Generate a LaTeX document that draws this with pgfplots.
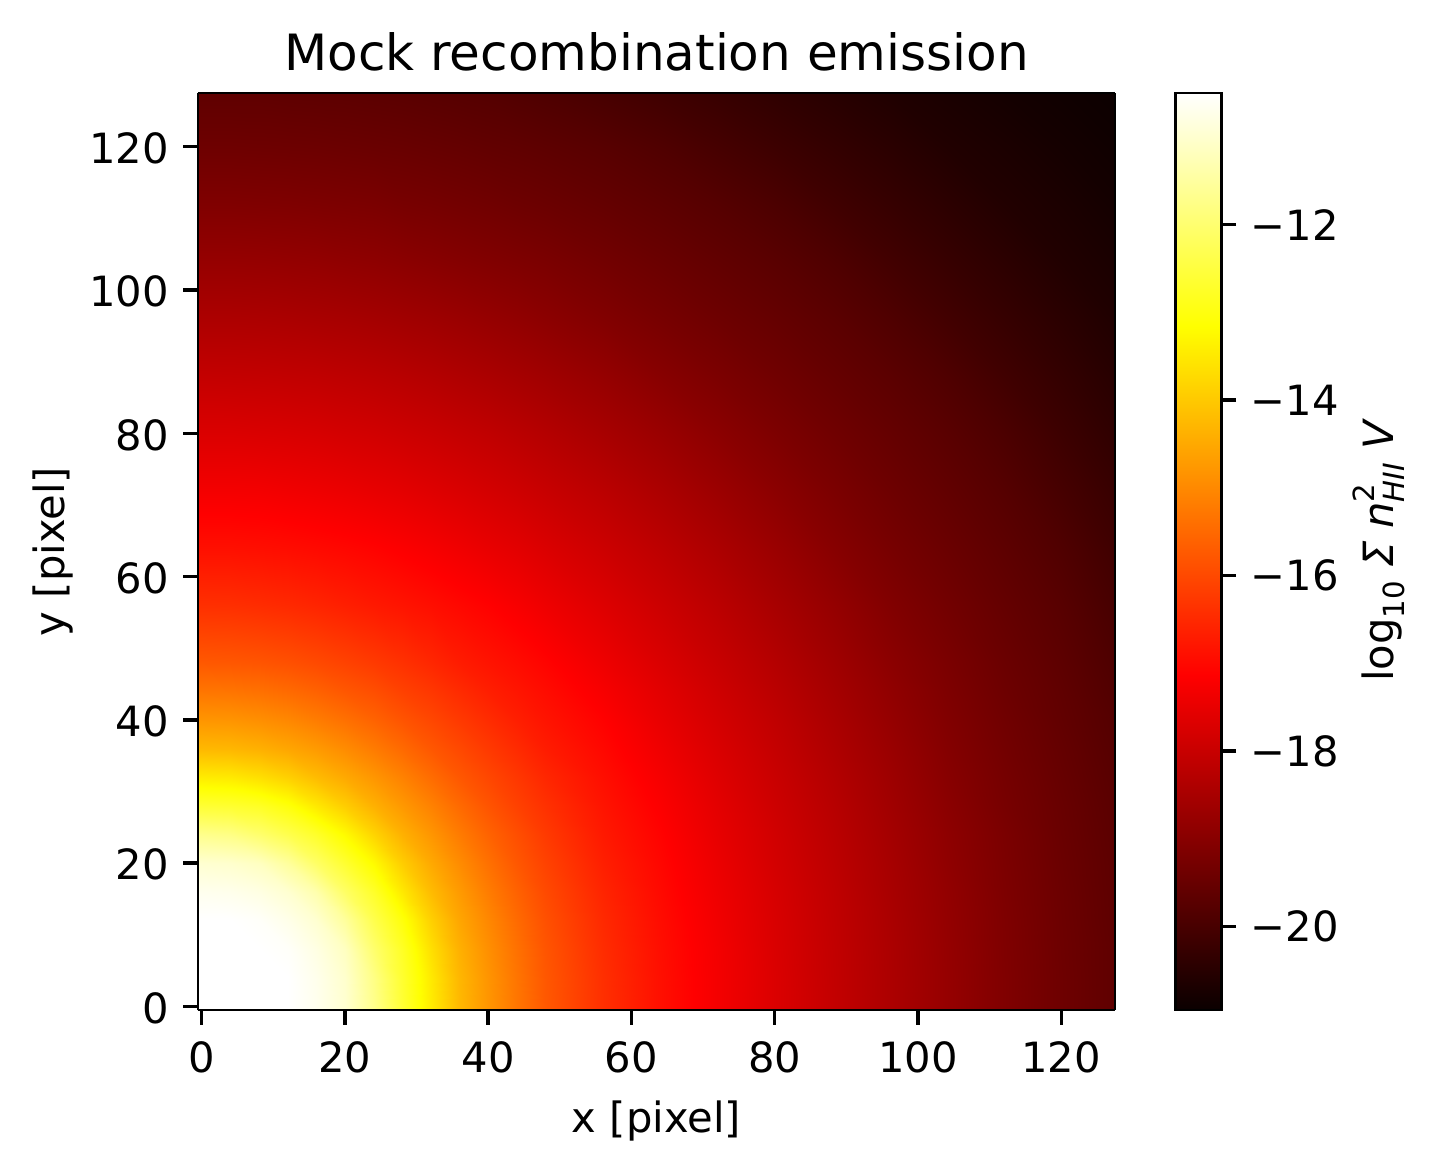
\documentclass[border=0pt]{standalone}
\usepackage{pgfplots}
\pgfplotsset{compat=1.18}
\usepackage{fontspec}
\setmainfont{DejaVu Sans}
\begin{document}
\begin{tikzpicture}[x=1pt,y=1pt]
\useasboundingbox (0,0) rectangle (344.88,280.8);
\begin{axis}[
    at={(47.52pt,38.4pt)}, anchor=south west,
    scale only axis, width=220.08pt, height=220.08pt,
    view={0}{90},
    xmin=-0.5, xmax=127.5, ymin=-0.5, ymax=127.5,
    xtick={0,20,...,120}, ytick={0,20,...,120}, ztick=\empty,
    tick align=outside, xtick pos=bottom, ytick pos=left,
    major tick length=3.5pt,
    every tick/.style={black,line width=0.8pt},
    axis line style={line width=0.7pt},
    axis on top,
    /pgf/number format/assume math mode=true,
    tick label style={font=\fontsize{10}{12}\selectfont},
    xticklabel style={yshift=-0.5pt},
    yticklabel style={yshift=-0.4pt},
    title={Mock recombination emission},
    title style={font=\fontsize{12}{14}\selectfont,at={(0.5,1)},anchor=base,yshift=-0.5pt},
    xlabel={x [pixel]},
    xlabel style={font=\fontsize{10}{12}\selectfont,at={(axis description cs:0.5,0)},anchor=base,yshift=-29.3pt},
    ylabel={y [pixel]},
    ylabel style={font=\fontsize{10}{12}\selectfont,at={(axis description cs:0,0.5)},yshift=32pt,anchor=base},
    colormap={hot}{rgb(0cm)=(0.0416,0,0); rgb(3.65cm)=(1,0,0); rgb(7.46cm)=(1,1,0); rgb(10cm)=(1,1,1)},
    point meta min=-20.95, point meta max=-10.5,
    colorbar,
    colorbar style={
        at={(parent axis.north east)}, anchor=north west, xshift=6pt,
        scale only axis, width=11.04pt,
        ytick={-20,-18,-16,-14,-12},
        yticklabels={−20,−18,−16,−14,−12},
        ytick pos=right,
        yticklabel pos=right,
        major tick length=3.5pt,
        tick align=outside,
        every tick/.style={black,line width=0.8pt},
        axis line style={line width=0.7pt},
        ylabel={log\raisebox{-0.25em}{\fontsize{7}{8}\selectfont 10} {\itshape Σ n}\rlap{\raisebox{0.45em}{\fontsize{7}{8}\selectfont 2}}\raisebox{-0.25em}{\fontsize{7}{8}\selectfont\itshape HII} {\itshape V}},
        ylabel style={font=\fontsize{10}{12}\selectfont,at={(axis description cs:1,0.5)},yshift=-41.3pt,anchor=base},
    },
]
\addplot3[surf, shader=interp, mesh/rows=23, mesh/cols=23] table {
-0.5 -0.5 -10.30
4 -0.5 -10.32
8 -0.5 -10.35
12 -0.5 -10.42
16 -0.5 -10.67
20 -0.5 -10.98
24 -0.5 -11.7
28 -0.5 -12.6
32 -0.5 -13.45
36 -0.5 -14.25
40 -0.5 -14.8
44 -0.5 -15.3
48 -0.5 -15.75
56 -0.5 -16.4
64 -0.5 -16.9
72 -0.5 -17.3
80 -0.5 -17.7
88 -0.5 -18.06
96 -0.5 -18.42
104 -0.5 -18.78
112 -0.5 -19.12
120 -0.5 -19.4
127.5 -0.5 -19.63
-0.5 4 -10.32
4 4 -10.33
8 4 -10.36
12 4 -10.45
16 4 -10.7
20 4 -11.02
24 4 -11.78
28 4 -12.65
32 4 -13.49
36 4 -14.28
40 4 -14.82
44 4 -15.32
48 4 -15.77
56 4 -16.41
64 4 -16.9
72 4 -17.3
80 4 -17.7
88 4 -18.07
96 4 -18.42
104 4 -18.78
112 4 -19.12
120 4 -19.4
127.5 4 -19.63
-0.5 8 -10.35
4 8 -10.36
8 8 -10.41
12 8 -10.56
16 8 -10.79
20 8 -11.15
24 8 -12.03
28 8 -12.76
32 8 -13.65
36 8 -14.38
40 8 -14.9
44 8 -15.38
48 8 -15.81
56 8 -16.45
64 8 -16.92
72 8 -17.31
80 8 -17.72
88 8 -18.08
96 8 -18.43
104 8 -18.79
112 8 -19.13
120 8 -19.41
127.5 8 -19.63
-0.5 12 -10.42
4 12 -10.45
8 12 -10.56
12 12 -10.73
16 12 -10.98
20 12 -11.53
24 12 -12.36
28 12 -13.04
32 12 -13.89
36 12 -14.54
40 12 -15.02
44 12 -15.48
48 12 -15.88
56 12 -16.5
64 12 -16.95
72 12 -17.35
80 12 -17.74
88 12 -18.1
96 12 -18.45
104 12 -18.81
112 12 -19.14
120 12 -19.42
127.5 12 -19.65
-0.5 16 -10.67
4 16 -10.7
8 16 -10.79
12 16 -10.98
16 16 -11.35
20 16 -12.1
24 16 -12.72
28 16 -13.49
32 16 -14.21
36 16 -14.72
40 16 -15.19
44 16 -15.61
48 16 -15.98
56 16 -16.57
64 16 -16.99
72 16 -17.39
80 16 -17.77
88 16 -18.12
96 16 -18.48
104 16 -18.83
112 16 -19.16
120 16 -19.43
127.5 16 -19.66
-0.5 20 -10.98
4 20 -11.02
8 20 -11.15
12 20 -11.53
16 20 -12.1
20 20 -12.65
24 20 -13.23
28 20 -13.93
32 20 -14.5
36 20 -14.95
40 20 -15.38
44 20 -15.78
48 20 -16.1
56 20 -16.66
64 20 -17.04
72 20 -17.44
80 20 -17.82
88 20 -18.16
96 20 -18.51
104 20 -18.87
112 20 -19.18
120 20 -19.45
127.5 20 -19.67
-0.5 24 -11.7
4 24 -11.78
8 24 -12.03
12 24 -12.36
16 24 -12.72
20 24 -13.23
24 24 -13.83
28 24 -14.38
32 24 -14.8
36 24 -15.21
40 24 -15.59
44 24 -15.92
48 24 -16.23
56 24 -16.75
64 24 -17.1
72 24 -17.5
80 24 -17.86
88 24 -18.2
96 24 -18.55
104 24 -18.9
112 24 -19.2
120 24 -19.47
127.5 24 -19.69
-0.5 28 -12.6
4 28 -12.65
8 28 -12.76
12 28 -13.04
16 28 -13.49
20 28 -13.93
24 28 -14.38
28 28 -14.75
32 28 -15.11
36 28 -15.48
40 28 -15.82
44 28 -16.12
48 28 -16.37
56 28 -16.83
64 28 -17.18
72 28 -17.56
80 28 -17.92
88 28 -18.25
96 28 -18.6
104 28 -18.95
112 28 -19.25
120 28 -19.49
127.5 28 -19.71
-0.5 32 -13.45
4 32 -13.49
8 32 -13.65
12 32 -13.89
16 32 -14.21
20 32 -14.5
24 32 -14.8
28 32 -15.11
32 32 -15.45
36 32 -15.77
40 32 -16.03
44 32 -16.28
48 32 -16.53
56 32 -16.92
64 32 -17.27
72 32 -17.64
80 32 -17.98
88 32 -18.31
96 32 -18.65
104 32 -19
112 32 -19.28
120 32 -19.52
127.5 32 -19.74
-0.5 36 -14.25
4 36 -14.28
8 36 -14.38
12 36 -14.54
16 36 -14.72
20 36 -14.95
24 36 -15.21
28 36 -15.48
32 36 -15.77
36 36 -16
40 36 -16.24
44 36 -16.47
48 36 -16.7
56 36 -17.02
64 36 -17.37
72 36 -17.72
80 36 -18.05
88 36 -18.38
96 36 -18.71
104 36 -19.05
112 36 -19.32
120 36 -19.55
127.5 36 -19.77
-0.5 40 -14.8
4 40 -14.82
8 40 -14.9
12 40 -15.02
16 40 -15.19
20 40 -15.38
24 40 -15.59
28 40 -15.82
32 40 -16.03
36 40 -16.24
40 40 -16.45
44 40 -16.66
48 40 -16.83
56 40 -17.12
64 40 -17.48
72 40 -17.81
80 40 -18.12
88 40 -18.45
96 40 -18.78
104 40 -19.1
112 40 -19.36
120 40 -19.59
127.5 40 -19.8
-0.5 44 -15.3
4 44 -15.32
8 44 -15.38
12 44 -15.48
16 44 -15.61
20 44 -15.78
24 44 -15.92
28 44 -16.12
32 44 -16.28
36 44 -16.47
40 44 -16.66
44 44 -16.81
48 44 -16.95
56 44 -17.25
64 44 -17.58
72 44 -17.9
80 44 -18.21
88 44 -18.53
96 44 -18.85
104 44 -19.15
112 44 -19.41
120 44 -19.62
127.5 44 -19.85
-0.5 48 -15.75
4 48 -15.77
8 48 -15.81
12 48 -15.88
16 48 -15.98
20 48 -16.1
24 48 -16.23
28 48 -16.37
32 48 -16.53
36 48 -16.7
40 48 -16.83
44 48 -16.95
48 48 -17.08
56 48 -17.39
64 48 -17.7
72 48 -18
80 48 -18.3
88 48 -18.61
96 48 -18.93
104 48 -19.2
112 48 -19.45
120 48 -19.66
127.5 48 -19.9
-0.5 56 -16.4
4 56 -16.41
8 56 -16.45
12 56 -16.5
16 56 -16.57
20 56 -16.66
24 56 -16.75
28 56 -16.83
32 56 -16.92
36 56 -17.02
40 56 -17.12
44 56 -17.25
48 56 -17.39
56 56 -17.66
64 56 -17.93
72 56 -18.2
80 56 -18.5
88 56 -18.79
96 56 -19.09
104 56 -19.33
112 56 -19.55
120 56 -19.75
127.5 56 -20.01
-0.5 64 -16.9
4 64 -16.9
8 64 -16.92
12 64 -16.95
16 64 -16.99
20 64 -17.04
24 64 -17.1
28 64 -17.18
32 64 -17.27
36 64 -17.37
40 64 -17.48
44 64 -17.58
48 64 -17.7
56 64 -17.93
64 64 -18.17
72 64 -18.43
80 64 -18.71
88 64 -19
96 64 -19.25
104 64 -19.46
112 64 -19.66
120 64 -19.87
127.5 64 -20.13
-0.5 72 -17.3
4 72 -17.3
8 72 -17.31
12 72 -17.35
16 72 -17.39
20 72 -17.44
24 72 -17.5
28 72 -17.56
32 72 -17.64
36 72 -17.72
40 72 -17.81
44 72 -17.9
48 72 -18
56 72 -18.2
64 72 -18.43
72 72 -18.68
80 72 -18.94
88 72 -19.18
96 72 -19.4
104 72 -19.59
112 72 -19.78
120 72 -20.02
127.5 72 -20.25
-0.5 80 -17.7
4 80 -17.7
8 80 -17.72
12 80 -17.74
16 80 -17.77
20 80 -17.82
24 80 -17.86
28 80 -17.92
32 80 -17.98
36 80 -18.05
40 80 -18.12
44 80 -18.21
48 80 -18.3
56 80 -18.5
64 80 -18.71
72 80 -18.94
80 80 -19.16
88 80 -19.36
96 80 -19.54
104 80 -19.72
112 80 -19.93
120 80 -20.17
127.5 80 -20.38
-0.5 88 -18.06
4 88 -18.07
8 88 -18.08
12 88 -18.1
16 88 -18.12
20 88 -18.16
24 88 -18.2
28 88 -18.25
32 88 -18.31
36 88 -18.38
40 88 -18.45
44 88 -18.53
48 88 -18.61
56 88 -18.79
64 88 -19
72 88 -19.18
80 88 -19.36
88 88 -19.53
96 88 -19.69
104 88 -19.88
112 88 -20.11
120 88 -20.31
127.5 88 -20.5
-0.5 96 -18.42
4 96 -18.42
8 96 -18.43
12 96 -18.45
16 96 -18.48
20 96 -18.51
24 96 -18.55
28 96 -18.6
32 96 -18.65
36 96 -18.71
40 96 -18.78
44 96 -18.85
48 96 -18.93
56 96 -19.09
64 96 -19.25
72 96 -19.4
80 96 -19.54
88 96 -19.69
96 96 -19.87
104 96 -20.08
112 96 -20.27
120 96 -20.45
127.5 96 -20.62
-0.5 104 -18.78
4 104 -18.78
8 104 -18.79
12 104 -18.81
16 104 -18.83
20 104 -18.87
24 104 -18.9
28 104 -18.95
32 104 -19
36 104 -19.05
40 104 -19.1
44 104 -19.15
48 104 -19.2
56 104 -19.33
64 104 -19.46
72 104 -19.59
80 104 -19.72
88 104 -19.88
96 104 -20.08
104 104 -20.26
112 104 -20.43
120 104 -20.6
127.5 104 -20.71
-0.5 112 -19.12
4 112 -19.12
8 112 -19.13
12 112 -19.14
16 112 -19.16
20 112 -19.18
24 112 -19.2
28 112 -19.25
32 112 -19.28
36 112 -19.32
40 112 -19.36
44 112 -19.41
48 112 -19.45
56 112 -19.55
64 112 -19.66
72 112 -19.78
80 112 -19.93
88 112 -20.11
96 112 -20.27
104 112 -20.43
112 112 -20.59
120 112 -20.69
127.5 112 -20.8
-0.5 120 -19.4
4 120 -19.4
8 120 -19.41
12 120 -19.42
16 120 -19.43
20 120 -19.45
24 120 -19.47
28 120 -19.49
32 120 -19.52
36 120 -19.55
40 120 -19.59
44 120 -19.62
48 120 -19.66
56 120 -19.75
64 120 -19.87
72 120 -20.02
80 120 -20.17
88 120 -20.31
96 120 -20.45
104 120 -20.6
112 120 -20.69
120 120 -20.79
127.5 120 -20.87
-0.5 127.5 -19.63
4 127.5 -19.63
8 127.5 -19.63
12 127.5 -19.65
16 127.5 -19.66
20 127.5 -19.67
24 127.5 -19.69
28 127.5 -19.71
32 127.5 -19.74
36 127.5 -19.77
40 127.5 -19.8
44 127.5 -19.85
48 127.5 -19.9
56 127.5 -20.01
64 127.5 -20.13
72 127.5 -20.25
80 127.5 -20.38
88 127.5 -20.5
96 127.5 -20.62
104 127.5 -20.71
112 127.5 -20.8
120 127.5 -20.87
127.5 127.5 -20.93
};
\end{axis}
\end{tikzpicture}
\end{document}
